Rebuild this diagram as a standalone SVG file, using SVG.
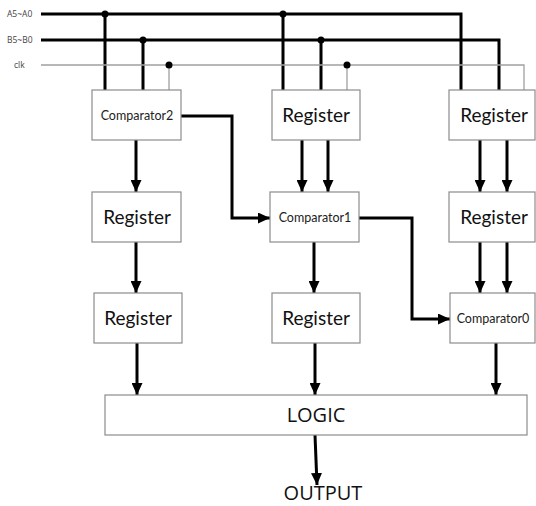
<svg xmlns="http://www.w3.org/2000/svg" width="536" height="506" viewBox="0 0 536 506">
<style>
.box{fill:#fff;stroke:#8c8c8c;stroke-width:1.2}
.bus{fill:none;stroke:#000;stroke-width:3}
.clk{fill:none;stroke:#a0a0a0;stroke-width:1.3}
.arr{fill:none;stroke:#000;stroke-width:3;marker-end:url(#ah)}
.reg{font-family:Lato,"Open Sans",sans-serif;font-size:19px;fill:#111;text-anchor:middle}
.cmp{font-family:Lato,"Open Sans",sans-serif;font-size:12.5px;fill:#222;text-anchor:middle}
.big{font-family:"Open Sans","Noto Sans",sans-serif;font-size:20px;fill:#111;text-anchor:middle}
.lbl{font-family:"Open Sans","Liberation Sans",sans-serif;font-size:8.5px;fill:#444}
</style>
<defs>
<marker id="ah" markerUnits="userSpaceOnUse" markerWidth="12" markerHeight="11" refX="12" refY="5.5" orient="auto">
<path d="M0,0 L12,5.5 L0,11 z" fill="#000"/>
</marker>
</defs>
<rect width="536" height="506" fill="#fff"/>
<g id="labels">
<text class="lbl" x="7" y="17">A5~A0</text>
<text class="lbl" x="7" y="43">B5~B0</text>
<text class="lbl" x="14" y="68">clk</text>
</g>
<g id="connectors">
<path class="bus" d="M41,14 H461 V90 M105,14 V90 M283,14 V90"/>
<path class="bus" d="M41,40 H499 V90 M143,40 V90 M321,40 V90"/>
<path class="clk" d="M41,65 H524 V90 M169,65 V90 M347,65 V90"/>
<circle cx="105" cy="14" r="3.5"/>
<circle cx="283" cy="14" r="3.5"/>
<circle cx="143" cy="40" r="3.5"/>
<circle cx="321" cy="40" r="3.5"/>
<circle cx="169" cy="65" r="3.5"/>
<circle cx="347" cy="65" r="3.5"/>
<path class="arr" d="M181,116 H232 V218 H270"/>
<path class="arr" d="M359,218 H412 V319 H450"/>
<path class="arr" d="M136,140 V192"/>
<path class="arr" d="M136,242 V293"/>
<path class="arr" d="M137,343 V395"/>
<path class="arr" d="M302,140 V192"/>
<path class="arr" d="M328,140 V192"/>
<path class="arr" d="M480,140 V192"/>
<path class="arr" d="M507,140 V192"/>
<path class="arr" d="M480,242 V293"/>
<path class="arr" d="M507,242 V293"/>
<path class="arr" d="M314,242 V293"/>
<path class="arr" d="M315,343 V395"/>
<path class="arr" d="M496,343 V395"/>
<path class="arr" d="M315,435 L317,485"/>
</g>
<g id="comparator2"><rect class="box" x="92" y="90" width="89" height="50"/><text class="cmp" x="137" y="120">Comparator2</text></g>
<g id="register-top-mid"><rect class="box" x="272" y="90" width="88" height="50"/><text class="reg" x="316" y="122">Register</text></g>
<g id="register-top-right"><rect class="box" x="449" y="90" width="86" height="50"/><text class="reg" x="494" y="122">Register</text></g>
<g id="register-left-1"><rect class="box" x="92" y="192" width="89" height="50"/><text class="reg" x="137" y="224">Register</text></g>
<g id="comparator1"><rect class="box" x="270" y="192" width="89" height="50"/><text class="cmp" x="315" y="222">Comparator1</text></g>
<g id="register-right-mid"><rect class="box" x="449" y="192" width="86" height="50"/><text class="reg" x="494" y="224">Register</text></g>
<g id="register-left-2"><rect class="box" x="94" y="293" width="88" height="50"/><text class="reg" x="138" y="325">Register</text></g>
<g id="register-mid-2"><rect class="box" x="272" y="293" width="88" height="50"/><text class="reg" x="316" y="325">Register</text></g>
<g id="comparator0"><rect class="box" x="450" y="293" width="85" height="50"/><text class="cmp" x="493" y="323">Comparator0</text></g>
<g id="logic"><rect class="box" x="105" y="395" width="422" height="40"/><text class="big" x="316" y="422">LOGIC</text></g>
<g id="output"><text class="big" x="323" y="500">OUTPUT</text></g>
</svg>
